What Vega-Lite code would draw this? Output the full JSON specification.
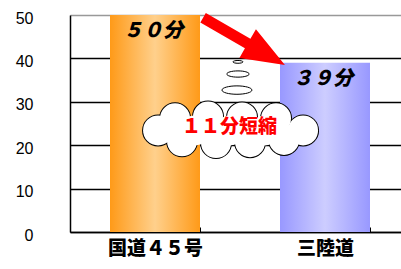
{
  "$schema": "https://vega.github.io/schema/vega-lite/v6.json",
  "width": 331,
  "height": 217,
  "autosize": {"type": "none"},
  "padding": {"left": 70, "top": 15, "right": 0, "bottom": 37},
  "background": "white",
  "config": {"view": {"stroke": null}},
  "datasets": {
    "bars": [
      {"route": "国道４５号", "minutes": 50, "label": "５０分"},
      {"route": "三陸道", "minutes": 39, "label": "３９分"}
    ],
    "arrow": [{"pos": 1.0235, "minutes": 43.9}],
    "bubbles": [
      {"pos": 0.988, "minutes": 39.2, "step": 1},
      {"pos": 0.988, "minutes": 36.4, "step": 2},
      {"pos": 0.982, "minutes": 32.7, "step": 3}
    ],
    "cloud": [
      {"pos": 0.518, "minutes": 23.4, "part": "edge"},
      {"pos": 1.371, "minutes": 23.4, "part": "edge"},
      {"pos": 0.618, "minutes": 26.2, "part": "edge"},
      {"pos": 0.812, "minutes": 26.6, "part": "edge"},
      {"pos": 1.012, "minutes": 26.4, "part": "edge"},
      {"pos": 1.212, "minutes": 26.2, "part": "edge"},
      {"pos": 0.659, "minutes": 20.9, "part": "edge"},
      {"pos": 0.859, "minutes": 20.5, "part": "edge"},
      {"pos": 1.059, "minutes": 20.7, "part": "edge"},
      {"pos": 1.259, "minutes": 21.2, "part": "edge"},
      {"pos": 0.735, "minutes": 23.4, "part": "core"},
      {"pos": 0.941, "minutes": 23.4, "part": "core"},
      {"pos": 1.147, "minutes": 23.4, "part": "core"}
    ],
    "note": [{"pos": 0.938, "minutes": 24.1, "text": "１１分短縮"}]
  },
  "layer": [
    {
      "data": {"name": "bars"},
      "encoding": {
        "x": {
          "field": "route",
          "type": "nominal",
          "sort": null,
          "scale": {"domain": ["国道４５号", "三陸道"], "range": [0, 340], "paddingInner": 0.4706, "paddingOuter": 0.2353},
          "axis": {
            "title": null,
            "labelAngle": 0,
            "domainColor": "black",
            "domainWidth": 1.5,
            "tickBand": "extent",
            "tickSize": -5,
            "tickColor": "black",
            "labelFont": "Noto Sans CJK JP",
            "labelFontSize": 19,
            "labelFontWeight": 900,
            "labelColor": "black",
            "labelPadding": 12
          }
        },
        "y": {
          "field": "minutes",
          "type": "quantitative",
          "title": null,
          "scale": {"domain": [0, 50]},
          "axis": {
            "title": null,
            "values": [0, 10, 20, 30, 40, 50],
            "ticks": false,
            "labelPadding": 37,
            "labelOffset": 3,
            "labelFont": "Liberation Sans",
            "labelFontSize": 16,
            "labelColor": "black",
            "domainColor": "black",
            "domainWidth": 1.5,
            "gridColor": {"condition": {"test": "datum.value == 50", "value": "#999999"}, "value": "black"},
            "gridWidth": 1.5
          }
        }
      },
      "layer": [
        {
          "transform": [{"filter": "datum.route == '国道４５号'"}],
          "mark": {
            "type": "bar",
            "fill": {"gradient": "linear", "x1": 0, "y1": 0, "x2": 1, "y2": 0,
              "stops": [{"offset": 0, "color": "#FF9A18"}, {"offset": 0.5, "color": "#FFD08C"}, {"offset": 1, "color": "#FF9A18"}]}
          }
        },
        {
          "transform": [{"filter": "datum.route == '三陸道'"}],
          "mark": {
            "type": "bar",
            "fill": {"gradient": "linear", "x1": 0, "y1": 0, "x2": 1, "y2": 0,
              "stops": [{"offset": 0, "color": "#9898FF"}, {"offset": 0.5, "color": "#CDCDFF"}, {"offset": 1, "color": "#9898FF"}]}
          }
        },
        {
          "mark": {"type": "text", "baseline": "middle", "dy": 16, "dx": -2, "font": "Noto Sans CJK JP", "fontSize": 20, "fontWeight": 900, "fontStyle": "italic", "color": "black"},
          "encoding": {"text": {"field": "label"}}
        }
      ]
    },
    {
      "encoding": {
        "x": {"field": "pos", "type": "quantitative", "scale": {"domain": [0, 2], "range": [0, 340]}, "axis": null},
        "y": {"field": "minutes", "type": "quantitative", "title": null, "scale": {"domain": [0, 50]}}
      },
      "layer": [
        {
          "data": {"name": "arrow"},
          "mark": {"type": "point", "shape": "M-1,-0.116L0.09,-0.116L0.09,-0.35L1,0L0.09,0.35L0.09,0.116L-1,0.116Z", "size": 8930, "angle": 30, "filled": true, "fill": "#FF0000", "strokeWidth": 0, "opacity": 1}
        },
        {
          "data": {"name": "bubbles"},
          "mark": {"type": "point", "shape": "M-1,0A1,0.28 0 1,0 1,0A1,0.28 0 1,0 -1,0Z", "filled": true, "fill": "white", "stroke": "black", "strokeWidth": 1, "opacity": 1},
          "encoding": {"size": {"field": "step", "type": "quantitative", "scale": {"domain": [1, 3], "range": [100, 900]}, "legend": null}}
        },
        {
          "data": {"name": "cloud"},
          "transform": [{"filter": "datum.part == 'edge'"}],
          "mark": {"type": "point", "shape": "circle", "size": 900, "filled": true, "fill": "white", "stroke": "black", "strokeWidth": 2, "opacity": 1}
        },
        {
          "data": {"name": "cloud"},
          "mark": {"type": "point", "shape": "circle", "size": 900, "filled": true, "fill": "white", "strokeWidth": 0, "opacity": 1}
        },
        {
          "data": {"name": "note"},
          "mark": {"type": "text", "baseline": "middle", "align": "center", "font": "Noto Sans CJK JP", "fontSize": 19, "fontWeight": 900, "color": "#FF0000"},
          "encoding": {"text": {"field": "text"}}
        }
      ]
    }
  ],
  "resolve": {"scale": {"x": "independent"}}
}
